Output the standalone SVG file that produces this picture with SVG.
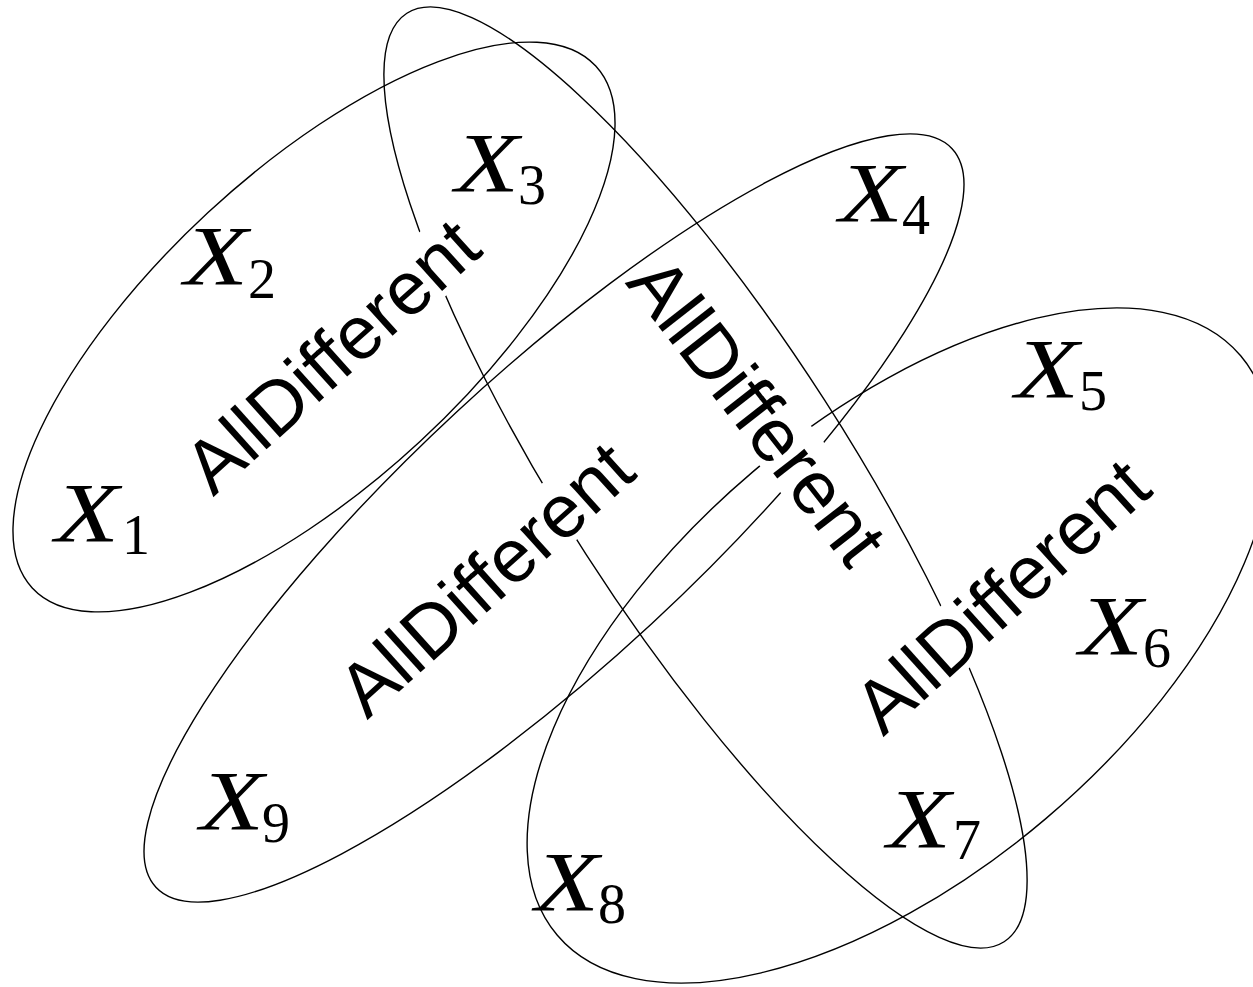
<svg xmlns="http://www.w3.org/2000/svg" width="1253" height="987" viewBox="0 0 1253 987">
<style>
.ell{fill:none;stroke:#000;stroke-width:1.4}
.bg{fill:#fff;stroke:none}
.lab{font-family:"Liberation Sans",Arial,sans-serif;font-size:75px;fill:#000;text-anchor:middle}
.x{font-family:"Liberation Serif","Times New Roman",serif;font-style:italic;font-size:85px;fill:#000}
.d{font-family:"Liberation Serif","Times New Roman",serif;font-size:56px;fill:#000}
</style>
<rect width="1253" height="987" fill="#fff"/>
<g id="constraint-ellipses">
<ellipse id="ellipse-c1" class="ell" cx="314" cy="327" rx="384" ry="156" transform="rotate(-42.8 314 327)"/>
<ellipse id="ellipse-c2" class="ell" cx="705.5" cy="477.5" rx="552" ry="142" transform="rotate(57.25 705.5 477.5)"/>
<ellipse id="ellipse-c3" class="ell" cx="554" cy="518" rx="543" ry="144" transform="rotate(-42.85 554 518)"/>
<ellipse id="ellipse-c4" class="ell" cx="899" cy="645.5" rx="448" ry="227" transform="rotate(-40.3 899 645.5)"/>
</g>
<g id="label-c1" transform="translate(349 375) rotate(-42)">
<rect class="bg" x="-186" y="-59" width="373" height="65"/>
<text class="lab" x="0" y="0">AllDifferent</text>
</g>
<g id="label-c2" transform="translate(737 427) rotate(52)">
<rect class="bg" x="-183" y="-59" width="370" height="65"/>
<text class="lab" x="0" y="0">AllDifferent</text>
</g>
<g id="label-c3" transform="translate(503 598) rotate(-42)">
<rect class="bg" x="-186" y="-59" width="373" height="65"/>
<text class="lab" x="0" y="0">AllDifferent</text>
</g>
<g id="label-c4" transform="translate(1019 615) rotate(-42)">
<rect class="bg" x="-186" y="-59" width="373" height="65"/>
<text class="lab" x="0" y="0">AllDifferent</text>
</g>
<g id="var-x1"><text class="x" x="55" y="542" textLength="64" lengthAdjust="spacingAndGlyphs">X</text><text class="d" x="122" y="554">1</text></g>
<g id="var-x2"><text class="x" x="184" y="285" textLength="64" lengthAdjust="spacingAndGlyphs">X</text><text class="d" x="248" y="298">2</text></g>
<g id="var-x3"><text class="x" x="455" y="192" textLength="64" lengthAdjust="spacingAndGlyphs">X</text><text class="d" x="518" y="204">3</text></g>
<g id="var-x4"><text class="x" x="839" y="222" textLength="64" lengthAdjust="spacingAndGlyphs">X</text><text class="d" x="902" y="234">4</text></g>
<g id="var-x5"><text class="x" x="1015" y="398" textLength="64" lengthAdjust="spacingAndGlyphs">X</text><text class="d" x="1079" y="410">5</text></g>
<g id="var-x6"><text class="x" x="1079" y="655" textLength="64" lengthAdjust="spacingAndGlyphs">X</text><text class="d" x="1143" y="667">6</text></g>
<g id="var-x7"><text class="x" x="887" y="848" textLength="64" lengthAdjust="spacingAndGlyphs">X</text><text class="d" x="953" y="859">7</text></g>
<g id="var-x8"><text class="x" x="535" y="911" textLength="64" lengthAdjust="spacingAndGlyphs">X</text><text class="d" x="598" y="923">8</text></g>
<g id="var-x9"><text class="x" x="200" y="830" textLength="64" lengthAdjust="spacingAndGlyphs">X</text><text class="d" x="262" y="842">9</text></g>
</svg>
